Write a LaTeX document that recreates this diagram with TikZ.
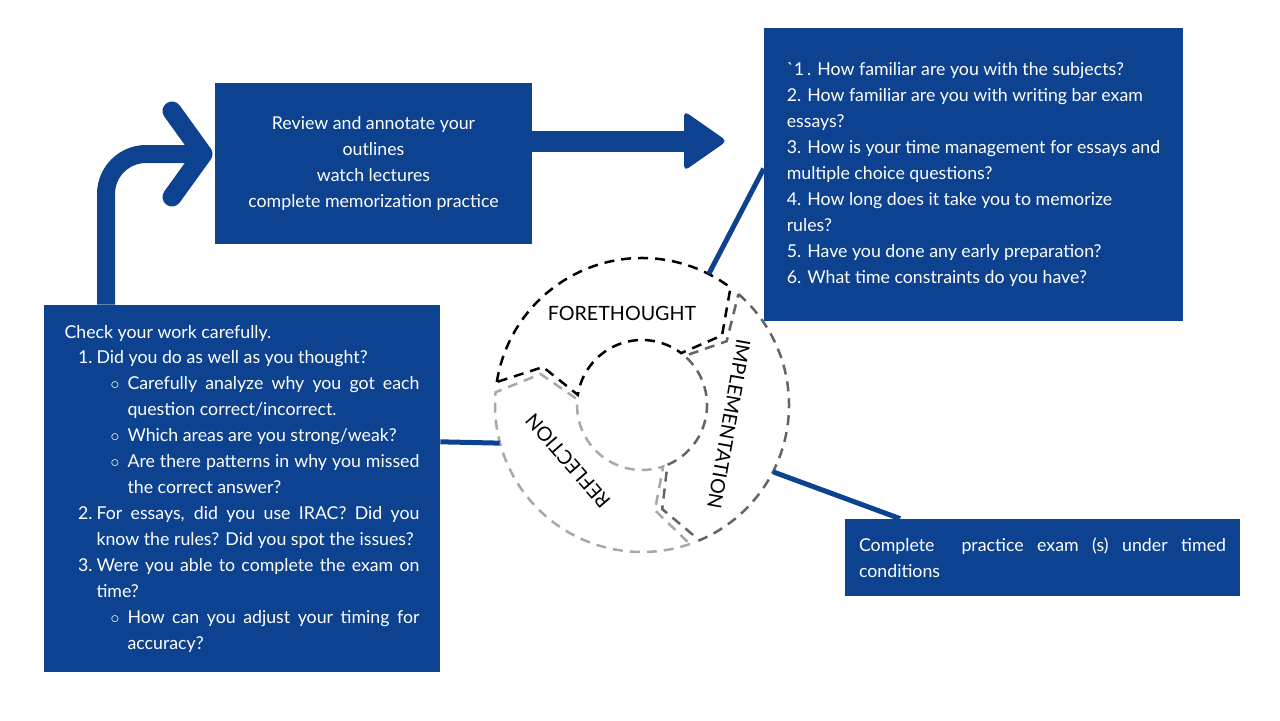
\documentclass[tikz,border=0pt]{standalone}
\usepackage{fontspec}
\setmainfont{Lato}
\usetikzlibrary{calc}

\definecolor{boxblue}{RGB}{13,66,145}
\definecolor{implgray}{RGB}{100,100,100}
\definecolor{reflgray}{RGB}{168,168,168}

\newcommand{\bodyfont}{\fontsize{10.1}{14.75}\selectfont}
\newcommand{\cycarrow}[2]{(#1:147) arc[start angle=#1, end angle=#2, radius=147]
  -- (#2-12:106) -- (#2:65) arc[start angle=#2, end angle=#1, radius=65]
  -- (#1-12:106) -- cycle}
\newcommand{\numline}[1]{\par\leftskip=0.64cm\noindent\llap{#1\hspace{0.08cm}}}
\newcommand{\subline}{\par\leftskip=1.26cm\noindent\llap{$\circ$\hspace{0.16cm}}}

\begin{document}
\begin{tikzpicture}[x=0.02cm, y=-0.02cm,
    bluebox/.style={fill=boxblue, text=white, inner sep=0pt, font=\bodyfont},
    link/.style={draw=boxblue, line width=0.1cm},
    flow/.style={draw=boxblue, line width=0.4cm},
    cyclabel/.style={font=\fontsize{11.2}{13}\selectfont, inner sep=0pt}]
  \useasboundingbox (0,0) rectangle (1280,720);

  \node[bluebox, minimum width=6.34cm, minimum height=3.22cm, align=center] (rev) at (373.5,163.5)
    {Review and annotate your\\ outlines\\ watch lectures\\ complete memorization practice};
  \node[bluebox, minimum width=8.38cm, minimum height=5.86cm, align=left] (ques) at (973.5,174.5)
    {\textasciigrave 1\,. How familiar are you with the subjects?\\
     2. How familiar are you with writing bar exam\\ essays?\\
     3. How is your time management for essays and\\ multiple choice questions?\\
     4. How long does it take you to memorize\\ rules?\\
     5. Have you done any early preparation?\\
     6. What time constraints do you have?};
  \node[bluebox, minimum width=7.92cm, minimum height=7.34cm, text width=7.1cm, align=justify] (chk) at (242,488.5)
    {\hyphenpenalty=10000 \tolerance=10000
     Check your work carefully.
     \numline{1.}Did you do as well as you thought?
     \subline Carefully analyze why you got each\linebreak question correct/incorrect.
     \subline Which areas are you strong/weak?
     \subline Are there patterns in why you missed\linebreak the correct answer?
     \numline{2.}For essays, did you use IRAC? Did you\linebreak know the rules? Did you spot the issues?
     \numline{3.}Were you able to complete the exam on\linebreak time?
     \subline How can you adjust your timing for\linebreak accuracy?\par};
  \node[bluebox, minimum width=7.9cm, minimum height=1.54cm, text width=7.34cm, align=justify] (exam) at (1042.5,557.5)
    {\tolerance=10000 Complete\ \ practice exam (s) under timed\linebreak conditions\par};

  % the cycle
  \node[circle, minimum size=5.88cm, inner sep=0pt] (cyc) at (642,405) {};
  \begin{scope}[shift={(642,405)}, yscale=-1, line width=0.05cm, dash pattern=on 0.2cm off 0.14cm]
    \draw[reflgray] \cycarrow{-71}{-185};
    \draw[implgray] \cycarrow{49}{-67};
    \draw[black] \cycarrow{171}{53};
  \end{scope}
  \node[cyclabel] (fore) at (622,313) {FORETHOUGHT};
  \node[cyclabel, rotate=-100] (impl) at (729,424) {IMPLEMENTATION};
  \node[cyclabel, rotate=131] (refl) at (568,461) {REFLECTION};

  \draw[link] (cyc.63) -- ($(ques.south west)!0.52!(ques.north west)$);
  \draw[link] ($(chk.north east)!0.373!(chk.south east)$) -- (cyc.-165);
  \draw[link] (cyc.-27) -- ($(exam.north west)!0.14!(exam.north east)$);

  % arrows
  \coordinate (tipR) at (727,141);
  \draw[flow, line width=0.42cm] (rev.east |- tipR) -- ($(tipR)+(-40,0)$);
  \fill[boxblue, rounded corners=0.1cm] ($(tipR)+(-43,-30)$) -- (tipR) -- ($(tipR)+(-43,30)$) -- cycle;

  \coordinate (bendx) at (106,0);
  \coordinate (tipL) at (203,154);
  \draw[flow, line width=0.36cm, rounded corners=0.8cm] (bendx |- chk.north) |- (tipL);
  \draw[flow, line width=0.38cm, line cap=round, line join=round]
    ($(tipL)+(-31,-43)$) -- (tipL) -- ($(tipL)+(-31,43)$);
\end{tikzpicture}
\end{document}
